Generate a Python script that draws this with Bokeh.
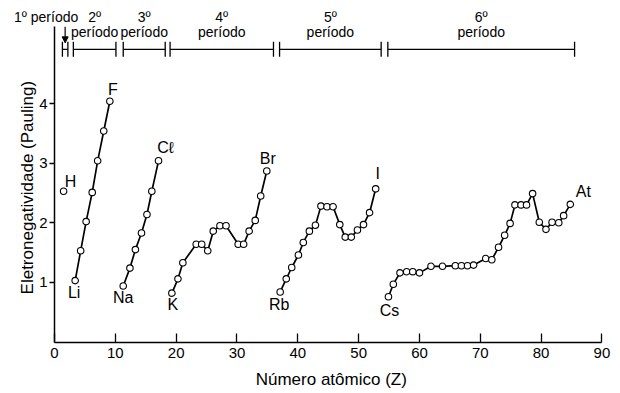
import math
from bokeh.plotting import figure
from bokeh.models import (ColumnDataSource, FixedTicker, Arrow, NormalHead, Range1d)
from bokeh.core.properties import value
from bokeh.embed import file_html
from bokeh.resources import INLINE

# ---- data (atomic number Z, Pauling electronegativity) ----
p1_z = [1.5]
p1_en = [2.53]
p2_z = [3.4, 4.3, 5.2, 6.2, 7.1, 8.1, 9.1]
p2_en = [1.03, 1.53, 2.02, 2.51, 3.04, 3.54, 4.04]
p3_z = [11.3, 12.4, 13.3, 14.3, 15.2, 16.0, 17.1]
p3_en = [0.94, 1.24, 1.55, 1.83, 2.14, 2.53, 3.04]
p4_z = [19.3, 20.3, 21.1, 23.3, 24.2, 25.2, 26.1, 27.2, 28.2, 30.2, 31.1, 32.0, 33.0, 33.9, 34.9]
p4_en = [0.82, 1.06, 1.33, 1.64, 1.64, 1.53, 1.86, 1.95, 1.95, 1.64, 1.64, 1.86, 2.04, 2.45, 2.87]
p5_z = [37.1, 38.1, 39.0, 40.1, 40.9, 41.9, 42.9, 43.8, 44.8, 45.8, 46.9, 47.8, 48.8, 49.8,
        50.8, 51.8, 52.8]
p5_en = [0.84, 1.06, 1.25, 1.46, 1.67, 1.86, 1.96, 2.28, 2.27, 2.27, 1.97, 1.76, 1.76, 1.88,
         1.97, 2.17, 2.57]
p6_z = [54.9, 55.7, 56.8, 57.9, 58.9, 60.0, 61.9, 63.8, 65.9, 66.9, 67.9, 68.9, 70.9, 71.9,
        73.0, 74.0, 74.9, 75.7, 76.7, 77.6, 78.6, 79.7, 80.8, 81.8, 82.9, 83.7, 84.8]
p6_en = [0.76, 0.97, 1.16, 1.18, 1.18, 1.16, 1.27, 1.27, 1.28, 1.28, 1.28, 1.29, 1.40, 1.38,
         1.59, 1.79, 1.99, 2.30, 2.30, 2.30, 2.49, 2.01, 1.89, 2.01, 2.00, 2.12, 2.31]

# labelled elements (first / last of each period)
elem_names = ["H", "Li", "F", "Na", "C\u2113", "K", "Br", "Rb", "I", "Cs", "At"]

# period brackets (Z range of each period)
period_names = ["1º", "2º", "3º", "4º", "5º", "6º"]
period_start = [1.3, 3.1, 11.3, 19.0, 37.0, 54.8]
period_end = [2.2, 10.1, 18.2, 36.0, 53.7, 85.5]

x_ticks = [0, 10, 20, 30, 40, 50, 60, 70, 80, 90]
y_ticks = [1, 2, 3, 4]

x_title = "Número atômico (Z)"
y_title = "Eletronegatividade (Pauling)"

FONT = "Liberation Sans"
TF = value(FONT)

p = figure(width=618, height=391, x_range=Range1d(-8.877, 92.72), y_range=Range1d(-0.8305, 5.730),
           output_backend="svg", toolbar_location=None,
           min_border_left=0, min_border_right=0, min_border_top=0, min_border_bottom=0)
p.outline_line_color = None
p.grid.visible = False
p.background_fill_color = "white"
p.border_fill_color = "white"

# axes, fixed at the origin
xa = p.xaxis[0]
xa.fixed_location = 0
xa.ticker = FixedTicker(ticks=x_ticks)
xa.bounds = (0, 90)
xa.major_tick_in = 9
xa.major_tick_out = 0
xa.major_label_standoff = 6

ya = p.yaxis[0]
ya.fixed_location = 0
ya.ticker = FixedTicker(ticks=y_ticks)
ya.bounds = (0, 5.29)
ya.major_tick_in = 0
ya.major_tick_out = 5
ya.major_label_standoff = 2

for ax in (xa, ya):
    ax.minor_tick_line_color = None
    ax.axis_line_color = "black"
    ax.axis_line_width = 1.5
    ax.major_tick_line_color = "black"
    ax.major_tick_line_width = 1.3
    ax.major_label_text_font = FONT
    ax.major_label_text_font_size = "15px"
    ax.major_label_text_color = "black"

# axis titles
p.text(x=[45.5], y=[-0.63], text=[x_title], text_align="center", text_baseline="middle",
       text_font=TF, text_font_size="17px", text_color="black")
p.text(x=[-4.39], y=[2.59], text=[y_title], angle=math.pi / 2, text_align="center",
       text_baseline="middle", text_font=TF, text_font_size="17px", text_color="black")

# series
series = [(p2_z, p2_en), (p3_z, p3_en), (p4_z, p4_en), (p5_z, p5_en), (p6_z, p6_en)]
for zs, es in series:
    p.line(zs, es, line_color="black", line_width=1.7)
for zs, es in [(p1_z, p1_en)] + series:
    p.scatter(zs, es, marker="circle", size=6.5, fill_color="white",
              line_color="black", line_width=1.1)

# element labels anchored to their points
lab_x = [p1_z[0], p2_z[0], p2_z[-1], p3_z[0], p3_z[-1], p4_z[0], p4_z[-1],
         p5_z[0], p5_z[-1], p6_z[0], p6_z[-1]]
lab_y = [p1_en[0], p2_en[0], p2_en[-1], p3_en[0], p3_en[-1], p4_en[0], p4_en[-1],
         p5_en[0], p5_en[-1], p6_en[0], p6_en[-1]]
lab_dx = [7, -1, 3, 0, 7, 1, 1, -1, 2, 1, 13]
lab_dy = [-10, 12, -12, 12, -13, 11, -12, 13, -15, 14, -13]
p.text(x="x", y="y", text="text", x_offset="dx", y_offset="dy",
       source=ColumnDataSource(dict(x=lab_x, y=lab_y, text=elem_names, dx=lab_dx, dy=lab_dy)),
       text_align="center", text_baseline="middle", text_font=TF,
       text_font_size="16px", text_color="black")

# period brackets
yb = 4.91
p.segment(x0=period_start, y0=[yb] * 6, x1=period_end, y1=[yb] * 6,
          line_color="black", line_width=1.3)
p.scatter(period_start + period_end, [yb] * 12, marker="dash", angle=math.pi / 2,
          size=15, line_color="black", line_width=1.3)

mids = [(a + b) / 2 for a, b in zip(period_start, period_end)]
src_per = ColumnDataSource(dict(x=mids[1:], y=[yb] * 5, num=period_names[1:],
                                word=["período"] * 5))
p.text(x="x", y="y", text="num", source=src_per, y_offset=-32,
       text_align="center", text_baseline="middle", text_font=TF,
       text_font_size="14px", text_color="black")
p.text(x="x", y="y", text="word", source=src_per, y_offset=-17,
       text_align="center", text_baseline="middle", text_font=TF,
       text_font_size="14px", text_color="black")
p.text(x=[mids[0]], y=[yb], text=[period_names[0] + " período"], x_offset=-19, y_offset=-32,
       text_align="center", text_baseline="middle", text_font=TF,
       text_font_size="14px", text_color="black")
p.add_layout(Arrow(end=NormalHead(size=6, fill_color="black", line_color="black"),
                   x_start=mids[0], y_start=5.29, x_end=mids[0], y_end=5.02,
                   line_color="black", line_width=1.2))

open("out.html", "w").write(file_html(p, INLINE))
